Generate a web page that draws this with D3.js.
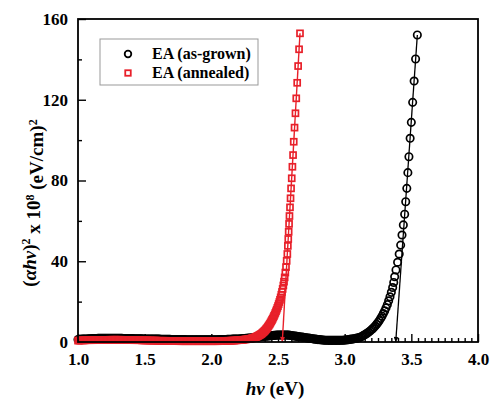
<!DOCTYPE html>
<html>
<head>
<meta charset="utf-8">
<script src="https://cdn.jsdelivr.net/npm/d3@7"></script>
<style>
  html, body { margin: 0; padding: 0; background: #fff; }
  svg { display: block; }
  text { font-family: "Liberation Serif", "Times New Roman", serif; font-weight: bold; fill: #000; }
</style>
</head>
<body>
<svg id="chart" width="490" height="400"></svg>
<script>
// Photon energy (eV) and Tauc values (alpha*h*nu)^2 x 10^8 (eV/cm)^2, as-grown film
const hvAsGrown = [
  1.00,1.01,1.02,1.03,1.04,1.05,1.06,1.07,1.08,1.09,
  1.10,1.11,1.12,1.13,1.14,1.15,1.16,1.17,1.18,1.19,
  1.20,1.21,1.22,1.23,1.24,1.25,1.26,1.27,1.28,1.29,
  1.30,1.31,1.32,1.33,1.34,1.35,1.36,1.37,1.38,1.39,
  1.40,1.41,1.42,1.43,1.44,1.45,1.46,1.47,1.48,1.49,
  1.50,1.51,1.52,1.53,1.54,1.55,1.56,1.57,1.58,1.59,
  1.60,1.61,1.62,1.63,1.64,1.65,1.66,1.67,1.68,1.69,
  1.70,1.71,1.72,1.73,1.74,1.75,1.76,1.77,1.78,1.79,
  1.80,1.81,1.82,1.83,1.84,1.85,1.86,1.87,1.88,1.89,
  1.90,1.91,1.92,1.93,1.94,1.95,1.96,1.97,1.98,1.99,
  2.00,2.01,2.02,2.03,2.04,2.05,2.06,2.07,2.08,2.09,
  2.10,2.11,2.12,2.13,2.14,2.15,2.16,2.17,2.18,2.19,
  2.20,2.21,2.22,2.23,2.24,2.25,2.26,2.27,2.28,2.29,
  2.30,2.31,2.32,2.33,2.34,2.35,2.36,2.37,2.38,2.39,
  2.40,2.41,2.42,2.43,2.44,2.45,2.46,2.47,2.48,2.49,
  2.50,2.51,2.52,2.53,2.54,2.55,2.56,2.57,2.58,2.59,
  2.60,2.61,2.62,2.63,2.64,2.65,2.66,2.67,2.68,2.69,
  2.70,2.71,2.72,2.73,2.74,2.75,2.76,2.77,2.78,2.79,
  2.80,2.81,2.82,2.83,2.84,2.85,2.86,2.87,2.88,2.89,
  2.90,2.91,2.92,2.93,2.94,2.95,2.96,2.97,2.98,2.99,
  3.00,3.01,3.02,3.03,3.04,3.05,3.06,3.07,3.08,3.09,
  3.10,3.11,3.12,3.13,3.14,3.15,3.16,3.17,3.18,3.19,
  3.20,3.21,3.22,3.23,3.24,3.25,3.26,3.27,3.28,3.29,
  3.30,3.31,3.32,3.33,3.34,3.35,3.36,3.368,
  3.375,3.385,3.397,3.409,3.420,3.430,3.440,3.450,3.458,
  3.466,3.474,3.482,3.491,3.500,3.510,3.521,3.532,3.545
];
const tAsGrown = [
  1.2,1.3,1.3,1.4,1.4,1.5,1.5,1.5,1.6,1.6,
  1.6,1.7,1.7,1.7,1.7,1.8,1.8,1.8,1.8,1.8,
  1.8,1.8,1.8,1.8,1.8,1.8,1.8,1.8,1.8,1.8,
  1.8,1.8,1.8,1.8,1.7,1.7,1.7,1.7,1.7,1.7,
  1.7,1.7,1.6,1.6,1.6,1.6,1.6,1.6,1.6,1.5,
  1.5,1.5,1.5,1.5,1.5,1.4,1.4,1.4,1.4,1.4,
  1.4,1.4,1.3,1.3,1.3,1.3,1.3,1.3,1.3,1.3,
  1.2,1.2,1.2,1.2,1.2,1.2,1.2,1.2,1.2,1.2,
  1.2,1.1,1.1,1.1,1.1,1.1,1.1,1.1,1.1,1.1,
  1.1,1.1,1.1,1.1,1.1,1.1,1.1,1.1,1.1,1.1,
  1.1,1.1,1.1,1.1,1.1,1.1,1.2,1.2,1.2,1.2,
  1.2,1.2,1.3,1.3,1.3,1.3,1.4,1.4,1.4,1.5,
  1.5,1.5,1.6,1.6,1.7,1.7,1.8,1.8,1.9,2.0,
  2.0,2.1,2.2,2.3,2.3,2.4,2.5,2.6,2.7,2.7,
  2.8,2.9,2.9,3.0,3.1,3.1,3.2,3.3,3.3,3.4,
  3.4,3.5,3.5,3.5,3.5,3.5,3.5,3.4,3.4,3.3,
  3.2,3.1,3.0,2.9,2.8,2.7,2.6,2.5,2.4,2.3,
  2.2,2.1,2.0,1.9,1.8,1.7,1.6,1.5,1.4,1.3,
  1.2,1.2,1.1,1.0,1.0,0.9,0.9,0.9,0.8,0.8,
  0.8,0.8,0.8,0.8,0.8,0.8,0.8,0.9,0.9,0.9,
  1.0,1.0,1.1,1.2,1.3,1.4,1.5,1.6,1.7,1.9,
  2.0,2.2,2.5,2.8,3.2,3.6,4.0,4.4,4.9,5.4,
  6.0,6.6,7.3,8.0,8.8,9.7,10.6,11.7,12.8,14.1,
  15.4,16.9,18.5,20.4,22.4,24.6,27.0,29.5,
  32.3,35.7,39.5,43.6,48.0,53.0,58.0,63.3,69.5,
  76.1,83.9,91.8,100.9,108.8,118.7,129.3,140.2,152.1
];

// Annealed film
const hvAnnealed = [
  1.00,1.01,1.02,1.03,1.04,1.05,1.06,1.07,1.08,1.09,
  1.10,1.11,1.12,1.13,1.14,1.15,1.16,1.17,1.18,1.19,
  1.20,1.21,1.22,1.23,1.24,1.25,1.26,1.27,1.28,1.29,
  1.30,1.31,1.32,1.33,1.34,1.35,1.36,1.37,1.38,1.39,
  1.40,1.41,1.42,1.43,1.44,1.45,1.46,1.47,1.48,1.49,
  1.50,1.51,1.52,1.53,1.54,1.55,1.56,1.57,1.58,1.59,
  1.60,1.61,1.62,1.63,1.64,1.65,1.66,1.67,1.68,1.69,
  1.70,1.71,1.72,1.73,1.74,1.75,1.76,1.77,1.78,1.79,
  1.80,1.81,1.82,1.83,1.84,1.85,1.86,1.87,1.88,1.89,
  1.90,1.91,1.92,1.93,1.94,1.95,1.96,1.97,1.98,1.99,
  2.00,2.01,2.02,2.03,2.04,2.05,2.06,2.07,2.08,2.09,
  2.10,2.11,2.12,2.13,2.14,2.15,2.16,2.17,2.18,2.19,
  2.20,2.21,2.22,2.23,2.24,2.25,2.26,2.27,2.28,2.29,
  2.300,2.305,2.310,2.315,2.320,2.325,2.330,2.335,2.340,2.345,
  2.350,2.355,2.360,2.365,2.370,2.375,2.380,2.385,2.390,2.395,
  2.400,2.405,2.410,2.415,2.420,2.425,2.430,2.435,2.440,2.445,
  2.450,2.455,2.460,2.465,2.470,2.475,2.480,2.485,2.490,2.495,
  2.500,2.505,2.510,2.515,2.520,2.525,2.530,2.535,2.540,2.545,
  2.550,2.555,2.560,2.565,2.570,
  2.574,2.577,2.580,2.583,2.586,2.590,2.594,2.598,2.603,2.608,
  2.613,2.618,2.624,2.631,2.637,2.644,2.651,2.658,2.665
];
const tAnnealed = [
  0.7,0.7,0.8,0.8,0.8,0.8,0.9,0.9,0.9,0.9,
  0.9,0.9,1.0,1.0,1.0,1.0,1.0,1.0,1.0,1.0,
  1.0,1.0,1.0,1.0,1.1,1.1,1.1,1.1,1.1,1.1,
  1.1,1.1,1.1,1.0,1.0,1.0,1.0,1.0,1.0,1.0,
  1.0,1.0,0.9,0.9,0.9,0.9,0.9,0.9,0.8,0.8,
  0.8,0.8,0.8,0.8,0.7,0.7,0.7,0.7,0.7,0.7,
  0.6,0.6,0.6,0.6,0.6,0.6,0.6,0.5,0.5,0.5,
  0.5,0.5,0.5,0.5,0.5,0.5,0.4,0.4,0.4,0.4,
  0.4,0.4,0.4,0.4,0.4,0.4,0.4,0.4,0.4,0.4,
  0.4,0.4,0.4,0.4,0.4,0.4,0.4,0.4,0.4,0.4,
  0.4,0.4,0.4,0.4,0.4,0.4,0.5,0.5,0.5,0.5,
  0.5,0.5,0.6,0.6,0.6,0.7,0.7,0.7,0.8,0.8,
  0.9,0.9,1.0,1.0,1.1,1.2,1.3,1.4,1.5,1.6,
  1.7,1.8,1.9,2.0,2.1,2.2,2.4,2.5,2.7,2.8,
  3.0,3.2,3.4,3.6,3.8,4.0,4.3,4.6,4.9,5.2,
  5.5,5.9,6.3,6.7,7.1,7.6,8.1,8.6,9.1,9.7,
  10.3,10.9,11.5,12.2,12.9,13.6,14.4,15.2,16.0,16.9,
  17.8,18.8,19.8,20.9,22.1,23.4,24.8,26.3,28.0,29.9,
  32.0,34.4,37.1,40.2,43.6,
  47.6,51.0,54.6,58.5,62.4,66.7,71.2,76.1,81.1,86.8,
  92.6,99.2,106.2,113.3,120.7,128.4,136.7,145.0,152.9
];

// Linear fits extrapolated to the energy axis (band-gap intercepts)
const fitAsGrown = [[3.545, 152.1], [3.383, 0]];
const fitAnnealed = [[2.665, 152.9], [2.532, 0]];

// Axis ticks
const xMajorTicks = [1.0, 1.5, 2.0, 2.5, 3.0, 3.5, 4.0];
const xMinorTicks = [];
for (let i = 0; i <= 60; i++) { if (i % 10 !== 0) xMinorTicks.push(+(1 + i * 0.05).toFixed(2)); }
const yMajorTicks = [0, 40, 80, 120, 160];
const yMinorTicks = [20, 60, 100, 140];

const seriesNames = ["EA (as-grown)", "EA (annealed)"];
const RED = "#e8202a";

const svg = d3.select("#chart");
const x = d3.scaleLinear().domain([1, 4]).range([78, 478]);
const y = d3.scaleLinear().domain([0, 160]).range([342, 19]);

// arrowhead for the fit lines
const defs = svg.append("defs");
[["arrowBlack", "#000"], ["arrowRed", RED]].forEach(([id, c]) => {
  defs.append("marker")
    .attr("id", id).attr("viewBox", "0 0 10 10")
    .attr("refX", 10).attr("refY", 5)
    .attr("markerWidth", 7).attr("markerHeight", 5)
    .attr("markerUnits", "userSpaceOnUse")
    .attr("orient", "auto")
    .append("path").attr("d", "M0,0 L10,5 L0,10 Z").attr("fill", c);
});

// axes (inward ticks)
const gx = svg.append("g").attr("transform", "translate(0,342)");
gx.call(d3.axisBottom(x).tickValues(xMinorTicks).tickSize(-4).tickFormat(""));
gx.call(g => g.select(".domain").remove());
const gxMaj = svg.append("g").attr("transform", "translate(0,342)");
gxMaj.call(d3.axisBottom(x).tickValues(xMajorTicks).tickSize(-8).tickPadding(11).tickFormat(d3.format(".1f")));
gxMaj.select(".domain").remove();

const gy = svg.append("g").attr("transform", "translate(78,0)");
gy.call(d3.axisLeft(y).tickValues(yMinorTicks).tickSize(-4).tickFormat(""));
gy.select(".domain").remove();
const gyMaj = svg.append("g").attr("transform", "translate(78,0)");
gyMaj.call(d3.axisLeft(y).tickValues(yMajorTicks).tickSize(-8).tickPadding(10));
gyMaj.select(".domain").remove();

svg.selectAll(".tick line").attr("stroke", "#000").attr("stroke-width", 1.4);
svg.selectAll(".tick text").style("font-size", "17px").attr("fill", "#000");

// data marks
const asGrown = hvAsGrown.map((h, i) => [h, tAsGrown[i]]);
const annealed = hvAnnealed.map((h, i) => [h, tAnnealed[i]]);

svg.append("g").selectAll("circle").data(asGrown).join("circle")
  .attr("cx", d => x(d[0])).attr("cy", d => y(d[1])).attr("r", 3.7)
  .attr("fill", "none").attr("stroke", "#000").attr("stroke-width", 1.7);

const line = d3.line().x(d => x(d[0])).y(d => y(d[1]));
svg.append("path").datum(fitAsGrown).attr("d", line)
  .attr("fill", "none").attr("stroke", "#000").attr("stroke-width", 1.3)
  .attr("marker-end", "url(#arrowBlack)");

const sq = 6;
svg.append("g").selectAll("rect").data(annealed).join("rect")
  .attr("x", d => x(d[0]) - sq / 2).attr("y", d => y(d[1]) - sq / 2)
  .attr("width", sq).attr("height", sq)
  .attr("fill", "none").attr("stroke", RED).attr("stroke-width", 1.7);

svg.append("path").datum(fitAnnealed).attr("d", line)
  .attr("fill", "none").attr("stroke", RED).attr("stroke-width", 1.4)
  .attr("marker-end", "url(#arrowRed)");

// frame
svg.append("rect").attr("x", 78).attr("y", 19).attr("width", 400).attr("height", 323)
  .attr("fill", "none").attr("stroke", "#000").attr("stroke-width", 1.8);

// legend
const lg = svg.append("g");
lg.append("rect").attr("x", 100).attr("y", 39).attr("width", 158).attr("height", 46)
  .attr("fill", "#fff").attr("stroke", "#999").attr("stroke-width", 1);
lg.append("circle").attr("cx", 128).attr("cy", 54).attr("r", 3.3)
  .attr("fill", "none").attr("stroke", "#000").attr("stroke-width", 1.8);
lg.append("rect").attr("x", 128 - 5.5 / 2).attr("y", 73 - 5.5 / 2).attr("width", 5.5).attr("height", 5.5)
  .attr("fill", "none").attr("stroke", RED).attr("stroke-width", 1.8);
lg.selectAll("text.lbl").data(seriesNames).join("text").attr("class", "lbl")
  .attr("x", 152).attr("y", (d, i) => 59 + i * 19)
  .style("font-size", "16px").text(d => d);

// axis titles
const xt = svg.append("text").attr("x", 275).attr("y", 395).attr("text-anchor", "middle").style("font-size", "19px");
xt.append("tspan").style("font-style", "italic").text("hν");
xt.append("tspan").text(" (eV)");

const yt = svg.append("text").attr("transform", "translate(36,203) rotate(-90)")
  .attr("text-anchor", "middle").style("font-size", "19px");
yt.append("tspan").text("(");
yt.append("tspan").style("font-style", "italic").text("αhν");
yt.append("tspan").text(")");
yt.append("tspan").attr("dy", "-0.5em").style("font-size", "12px").text("2");
yt.append("tspan").attr("dy", "0.5em").text(" x 10");
yt.append("tspan").attr("dy", "-0.5em").style("font-size", "12px").text("8");
yt.append("tspan").attr("dy", "0.5em").text(" (eV/cm)");
yt.append("tspan").attr("dy", "-0.5em").style("font-size", "12px").text("2");
</script>
</body>
</html>
